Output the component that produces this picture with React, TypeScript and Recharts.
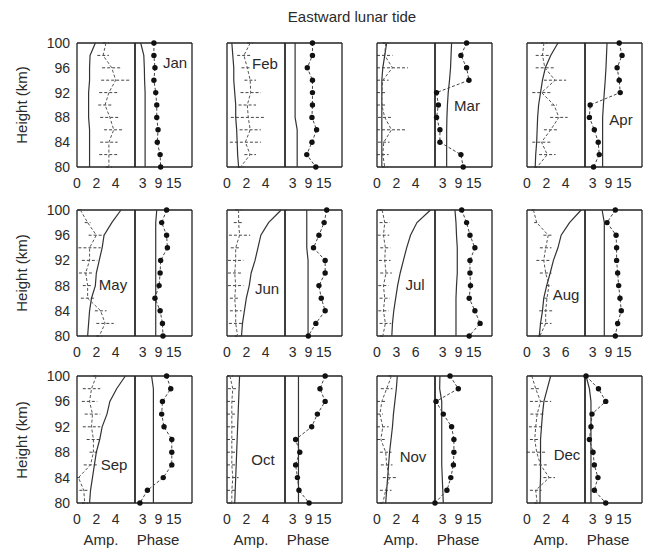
import React from 'react';
import { ScatterChart, Scatter, XAxis, YAxis, ErrorBar } from 'recharts';

// ---------- data ----------
const HEIGHTS = [100, 98, 96, 94, 92, 90, 88, 86, 84, 82, 80];
const MONTHS = ['Jan', 'Feb', 'Mar', 'Apr', 'May', 'Jun', 'Jul', 'Aug', 'Sep', 'Oct', 'Nov', 'Dec'];
const AMP_RANGE = [6, 6, 6, 6, 6, 6, 9, 9, 6, 6, 6, 6];
const AMP_TICKS_SMALL = [0, 2, 4];
const AMP_TICKS_LARGE = [0, 3, 6];
const PHASE_RANGE = 22;
const PHASE_TICKS = [3, 9, 15];
const HEIGHT_TICKS = [100, 96, 92, 88, 84, 80];
const HEIGHT_MARKS = [98, 96, 94, 92, 90, 88, 86, 84, 82];

// amplitude, solid curve (per month, heights 100 -> 80)
const AMP_SOLID = [
  [1.9, 1.35, 1.3, 1.3, 1.2, 1.2, 1.2, 1.3, 1.3, 1.3, 1.3],
  [0.5, 0.6, 0.7, 0.7, 0.8, 0.9, 0.9, 1.0, 1.05, 1.1, 1.2],
  [1.0, 0.8, 0.6, 0.5, 0.5, 0.5, 0.5, 0.5, 0.5, 0.5, 0.5],
  [3.2, 2.45, 1.9, 1.6, 1.4, 1.2, 1.1, 1.05, 1.0, 0.9, 0.85],
  [4.55, 3.6, 2.8, 2.6, 2.3, 2.0, 1.9, 1.5, 1.3, 1.2, 1.1],
  [5.6, 4.3, 3.5, 3.2, 2.9, 2.5, 2.3, 2.0, 1.8, 1.6, 1.5],
  [8.3, 6.2, 5.2, 4.6, 4.1, 3.6, 3.2, 2.9, 2.6, 2.4, 2.3],
  [8.4, 6.6, 5.3, 4.8, 4.1, 3.6, 3.05, 2.6, 2.4, 2.1, 1.9],
  [5.0, 4.1, 3.4, 3.1, 2.6, 2.35, 2.0, 1.8, 1.6, 1.4, 1.3],
  [1.3, 1.25, 1.2, 1.15, 1.1, 1.05, 1.0, 0.95, 0.9, 0.85, 0.8],
  [2.1, 2.0, 1.85, 1.7, 1.6, 1.45, 1.3, 1.2, 1.1, 1.0, 0.9],
  [2.45, 2.1, 1.75, 1.6, 1.5, 1.4, 1.4, 1.4, 1.4, 1.35, 1.35],
];

// amplitude, dashed curve with error bars
const AMP_DASH = [
  [3.0, 2.7, 3.6, 4.0, 3.3, 2.9, 3.4, 3.8, 3.3, 3.3, 3.3],
  [2.4, 1.75, 2.1, 2.4, 2.45, 2.1, 2.2, 2.4, 1.9, 2.4, 1.4],
  [0.9, 0.8, 1.6, 0.6, 0.5, 0.5, 0.8, 1.5, 0.7, 0.6, 0.8],
  [1.75, 1.6, 1.85, 2.9, 1.5, 2.8, 3.3, 2.45, 1.5, 2.1, 1.05],
  [0.35, 1.1, 2.0, 1.3, 1.3, 0.9, 1.1, 1.1, 2.45, 2.9, 2.3],
  [1.2, 1.2, 1.3, 0.9, 0.9, 0.8, 0.9, 0.8, 0.9, 0.9, 1.1],
  [0.8, 1.2, 1.0, 1.3, 1.2, 1.4, 1.0, 1.2, 1.0, 1.3, 0.9],
  [1.0, 1.5, 3.3, 2.9, 2.6, 2.9, 3.4, 3.1, 2.9, 2.9, 2.0],
  [2.0, 1.5, 1.3, 1.6, 1.5, 1.7, 1.7, 1.4, 0.15, 0.7, 0.8],
  [0.3, 0.6, 0.5, 0.5, 0.5, 0.5, 0.5, 0.5, 0.6, 0.5, 0.5],
  [1.5, 1.0, 0.5, 0.3, 0.6, 0.4, 0.9, 1.0, 1.3, 0.9, 0.6],
  [0.5, 0.9, 1.4, 1.05, 0.9, 0.8, 1.0, 1.4, 2.3, 0.9, 1.05],
];

const AMP_ERR = [
  [0.3, 0.6, 1.0, 1.5, 1.0, 0.7, 1.0, 1.0, 0.9, 1.0, 0.3],
  [0.3, 0.7, 0.6, 0.6, 1.05, 0.9, 1.8, 1.1, 1.6, 0.6, 0.3],
  [0.3, 0.8, 1.6, 0.6, 0.5, 0.5, 0.7, 1.5, 0.6, 0.6, 0.3],
  [0.3, 0.7, 0.95, 1.15, 0.95, 0.3, 0.9, 0.7, 0.95, 0.85, 0.3],
  [0.2, 0.3, 0.8, 1.15, 0.8, 0.7, 0.5, 0.7, 0.6, 0.9, 0.3],
  [0.3, 0.5, 1.1, 0.5, 0.8, 0.7, 0.8, 0.5, 0.6, 0.7, 0.3],
  [0.4, 0.8, 0.9, 0.8, 0.9, 0.9, 0.8, 0.8, 0.8, 0.9, 0.4],
  [0.3, 0.4, 0.75, 0.9, 1.15, 0.9, 0.4, 0.4, 1.0, 0.9, 0.3],
  [0.3, 0.9, 0.8, 0.8, 0.9, 0.7, 0.4, 0.7, 0.15, 0.45, 0.3],
  [0.3, 0.5, 0.5, 0.5, 0.5, 0.5, 0.5, 0.5, 0.6, 0.5, 0.3],
  [0.3, 0.6, 0.5, 0.3, 0.6, 0.4, 0.6, 0.6, 0.7, 0.6, 0.3],
  [0.2, 0.5, 1.1, 0.7, 0.7, 0.5, 1.0, 0.7, 0.6, 0.6, 0.3],
];

// phase, solid curve
const PHASE_SOLID = [
  [2.2, 3.4, 3.6, 3.7, 3.9, 3.9, 3.9, 3.9, 3.9, 3.9, 3.9],
  [3.9, 3.9, 3.9, 3.9, 3.9, 3.9, 3.9, 4.7, 4.7, 4.7, 4.7],
  [6.4, 6.2, 6.0, 5.6, 5.1, 4.8, 4.6, 4.5, 4.5, 4.5, 4.5],
  [8.5, 8.3, 8.1, 7.8, 7.45, 7.1, 6.8, 6.8, 6.8, 6.8, 6.8],
  [8.4, 8.0, 8.0, 8.0, 8.0, 8.0, 8.0, 8.0, 8.0, 8.0, 8.0],
  [8.4, 8.4, 8.4, 8.4, 8.9, 8.9, 8.9, 8.9, 8.9, 8.9, 8.9],
  [7.7, 8.1, 8.3, 8.6, 8.6, 8.6, 8.3, 8.1, 8.1, 8.1, 8.1],
  [6.6, 7.45, 7.45, 7.45, 7.45, 7.45, 7.45, 7.45, 7.45, 7.45, 7.45],
  [6.4, 7.1, 7.1, 7.1, 7.1, 7.1, 7.1, 7.1, 7.1, 7.1, 7.1],
  [5.2, 5.2, 5.2, 5.2, 5.2, 5.2, 5.2, 5.2, 5.2, 5.2, 5.2],
  [1.9, 1.8, 2.6, 2.6, 2.6, 2.6, 2.6, 2.6, 2.8, 3.0, 3.2],
  [0.4, 1.7, 2.3, 2.3, 2.3, 2.3, 2.3, 2.3, 2.3, 2.3, 2.3],
];

// phase, dots
const PHASE_DOTS = [
  [7.3, 7.3, 7.7, 7.3, 8.0, 8.4, 8.4, 8.9, 8.6, 9.7, 9.9],
  [10.6, 10.6, 8.6, 10.6, 10.6, 10.6, 10.4, 12.2, 10.4, 8.4, 11.9],
  [12.2, 10.0, 12.2, 13.1, 0.6, 1.3, 0.6, 1.9, 1.9, 10.0, 10.9],
  [13.2, 14.3, 12.4, 13.2, 13.6, 2.0, 1.7, 3.6, 5.1, 5.5, 3.3],
  [12.2, 10.3, 12.2, 12.5, 9.9, 9.7, 9.3, 7.7, 9.7, 10.6, 10.8],
  [16.1, 15.1, 13.1, 11.0, 15.5, 15.5, 13.1, 14.0, 15.5, 11.9, 9.0],
  [10.3, 12.2, 13.5, 15.4, 13.5, 13.5, 13.7, 13.2, 15.4, 17.4, 13.2],
  [11.7, 8.5, 12.0, 12.2, 12.2, 12.6, 13.0, 13.5, 14.0, 12.6, 11.7],
  [12.2, 13.8, 10.6, 10.3, 11.2, 14.2, 14.2, 14.2, 10.9, 4.8, 1.9],
  [15.5, 13.5, 15.5, 12.5, 10.3, 4.1, 5.7, 4.1, 4.8, 5.4, 9.3],
  [5.8, 9.0, 0.4, 3.2, 6.4, 7.3, 7.3, 7.1, 6.1, 4.6, 0.0],
  [0.4, 5.2, 8.0, 2.7, 2.3, 1.7, 3.1, 3.6, 5.0, 3.6, 8.0],
];

// ---------- layout / style ----------
const COL_L = [77, 227, 377, 527];
const ROW_T = [43, 210, 376];
const ROW_H = [124, 126, 127];
const AMP_W = 58;
const PH_W = 57;
const PAD = 11;
const LAB_H = 26;
const YLAB_W = 46;
const C_BOX = '#222';
const C_LINE = '#333';
const C_TEXT = '#2a2a2a';
const FONT = '"Liberation Sans", Arial, Helvetica, sans-serif';

const LABEL_POS: [number, number][] = [
  [175, 63], [265, 64], [467, 106], [621, 120],
  [113, 285], [267, 289], [415, 285], [566, 295],
  [114, 465], [263, 460], [413, 457], [567, 455],
];

type Pt = { x: number; y: number; err?: number };
const toPts = (vals: number[], errs?: number[]): Pt[] =>
  HEIGHTS.map((h, i) => (errs ? { x: vals[i], y: h, err: errs[i] } : { x: vals[i], y: h }));

const noShape = () => <g />;
const dotShape = (p: any) => <circle cx={p.cx} cy={p.cy} r={2.7} fill="#111" />;

function Sub(props: {
  left: number; top: number; w: number; h: number; domain: [number, number];
  labelTicks: number[]; markTicks: number[]; yLabels?: boolean; children: React.ReactNode;
}) {
  const { left, top, w, h, domain, labelTicks, markTicks, yLabels, children } = props;
  const extra = yLabels ? YLAB_W : 0;
  return (
    <div style={{ position: 'absolute', left: left - PAD - extra, top: top - PAD }}>
      <ScatterChart
        width={w + 2 * PAD + extra}
        height={h + PAD + LAB_H}
        margin={{ top: PAD, right: PAD, bottom: 0, left: PAD }}
      >
        <XAxis
          xAxisId="b" type="number" dataKey="x" domain={domain} ticks={labelTicks} interval={0}
          orientation="bottom" height={LAB_H} tickLine={false} tickSize={6} tickMargin={5}
          axisLine={{ stroke: C_BOX, strokeWidth: 1.3 }}
          tick={{ fontSize: 14, fill: C_TEXT }}
        />
        <XAxis
          xAxisId="bm" type="number" domain={domain} ticks={markTicks} interval={0} allowDataOverflow
          orientation="bottom" mirror tick={false} tickSize={3}
          tickLine={{ stroke: C_BOX }} axisLine={false}
        />
        <XAxis
          xAxisId="t" type="number" domain={domain} ticks={markTicks} interval={0} allowDataOverflow
          orientation="top" mirror tick={false} tickSize={3}
          tickLine={{ stroke: C_BOX }} axisLine={{ stroke: C_BOX, strokeWidth: 1.3 }}
        />
        {yLabels && (
          <YAxis
            yAxisId="lab" type="number" domain={[80, 100]} ticks={HEIGHT_TICKS} interval={0} allowDataOverflow
            width={YLAB_W} tickLine={false} axisLine={false} tickSize={4} tickMargin={3}
            tick={{ fontSize: 14, fill: C_TEXT }}
          />
        )}
        <YAxis
          yAxisId="l" type="number" dataKey="y" domain={[80, 100]} ticks={HEIGHT_MARKS} interval={0}
          mirror tick={false} tickSize={3}
          tickLine={{ stroke: C_BOX }} axisLine={{ stroke: C_BOX, strokeWidth: 1.3 }}
        />
        <YAxis
          yAxisId="r" type="number" orientation="right" domain={[80, 100]} ticks={HEIGHT_MARKS} interval={0}
          allowDataOverflow mirror tick={false} tickSize={3}
          tickLine={{ stroke: C_BOX }} axisLine={{ stroke: C_BOX, strokeWidth: 1.3 }}
        />
        {children}
      </ScatterChart>
    </div>
  );
}

function MonthPanel({ i }: { i: number }) {
  const r = Math.floor(i / 4);
  const c = i % 4;
  const L = COL_L[c];
  const T = ROW_T[r];
  const H = ROW_H[r];
  const big = AMP_RANGE[i] === 9;
  return (
    <>
      <Sub
        left={L} top={T} w={AMP_W} h={H} domain={[0, AMP_RANGE[i]]}
        labelTicks={big ? AMP_TICKS_LARGE : AMP_TICKS_SMALL}
        markTicks={big ? [3, 6] : [2, 4]}
        yLabels={c === 0}
      >
        <Scatter
          xAxisId="b" yAxisId="l" data={toPts(AMP_SOLID[i])} shape={noShape}
          line={{ stroke: C_LINE, strokeWidth: 1.2 }} isAnimationActive={false}
        />
        <Scatter
          xAxisId="b" yAxisId="l" data={toPts(AMP_DASH[i], AMP_ERR[i])} shape={noShape}
          line={{ stroke: '#555', strokeWidth: 1, strokeDasharray: '3 2' }} isAnimationActive={false}
        >
          <ErrorBar
            dataKey="err" direction="x" width={0} stroke="#444" strokeWidth={1}
            strokeDasharray="3 2" isAnimationActive={false}
          />
        </Scatter>
      </Sub>
      <Sub
        left={L + AMP_W} top={T} w={PH_W} h={H} domain={[0, PHASE_RANGE]}
        labelTicks={PHASE_TICKS} markTicks={PHASE_TICKS}
      >
        <Scatter
          xAxisId="b" yAxisId="l" data={toPts(PHASE_SOLID[i])} shape={noShape}
          line={{ stroke: C_LINE, strokeWidth: 1.2 }} isAnimationActive={false}
        />
        <Scatter
          xAxisId="b" yAxisId="l" data={toPts(PHASE_DOTS[i])} shape={dotShape}
          line={{ stroke: '#444', strokeWidth: 1, strokeDasharray: '3 2' }} isAnimationActive={false}
        />
      </Sub>
    </>
  );
}

export default function App() {
  return (
    <div
      style={{
        position: 'absolute', left: 0, top: 0, width: 648, height: 553, background: '#fff',
        fontFamily: FONT, color: C_TEXT, overflow: 'hidden',
      }}
    >
      <div
        style={{
          position: 'absolute', left: 252, top: 8, width: 200, textAlign: 'center',
          fontSize: 15, lineHeight: '18px',
        }}
      >
        Eastward lunar tide
      </div>

      {MONTHS.map((m, i) => (
        <MonthPanel key={m} i={i} />
      ))}

      {ROW_T.map((t, r) => (
        <div
          key={'hl' + r}
          style={{
            position: 'absolute', left: 22 - 65, top: t + ROW_H[r] / 2 - 9, width: 130, height: 18,
            lineHeight: '18px', textAlign: 'center', fontSize: 15, transform: 'rotate(-90deg)',
          }}
        >
          Height (km)
        </div>
      ))}

      {MONTHS.map((m, i) => (
        <div
          key={'ml' + m}
          style={{
            position: 'absolute', left: LABEL_POS[i][0], top: LABEL_POS[i][1],
            transform: 'translate(-50%, -50%)', background: '#fff', fontSize: 15,
            lineHeight: '16px', padding: '0 1px',
          }}
        >
          {m}
        </div>
      ))}

      {COL_L.map((L, c) => (
        <React.Fragment key={'ax' + c}>
          <div
            style={{
              position: 'absolute', left: L + 24 - 30, top: 531, width: 60, textAlign: 'center',
              fontSize: 15, lineHeight: '18px',
            }}
          >
            Amp.
          </div>
          <div
            style={{
              position: 'absolute', left: L + 81 - 35, top: 531, width: 70, textAlign: 'center',
              fontSize: 15, lineHeight: '18px',
            }}
          >
            Phase
          </div>
        </React.Fragment>
      ))}
    </div>
  );
}
